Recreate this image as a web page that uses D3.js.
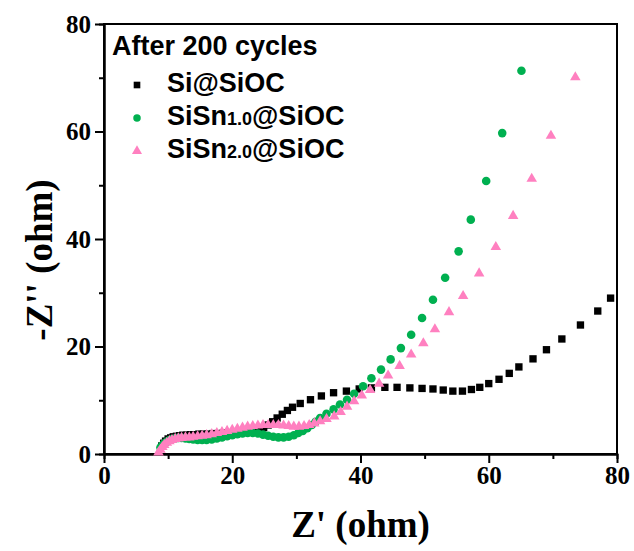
<!DOCTYPE html>
<html>
<head>
<meta charset="utf-8">
<script src="https://cdn.jsdelivr.net/npm/d3@7"></script>
<style>
body { margin: 0; background: #fff; }
svg { display: block; }
.tick text { font-family: "Liberation Serif", "Times New Roman", serif; font-weight: bold; font-size: 25px; fill: #000; }
.axis path, .axis line { stroke: #000; stroke-width: 2; }
.legend text { font-family: "Liberation Sans", Arial, sans-serif; font-weight: bold; font-size: 27px; fill: #000; }
.title { font-family: "Liberation Serif", "Times New Roman", serif; font-weight: bold; font-size: 37px; fill: #000; }
</style>
</head>
<body>
<div id="chart"></div>
<script>
// tick labels
var xTicks = [0, 20, 40, 60, 80];
var yTicks = [0, 20, 40, 60, 80];
var xMinor = [10, 30, 50, 70];
var yMinor = [10, 30, 50, 70];

// Si@SiOC
var siX = [9.0,9.3,9.6,10.0,10.4,10.8,11.3,11.8,12.3,12.9,13.5,14.1,14.8,15.5,16.2,17.0,17.8,18.6,19.4,20.2,21.0,21.8,22.6,23.4,24.2,24.9,25.6,26.3,27.0,27.8,28.6,29.4,30.6,32.2,33.9,35.8,37.8,39.8,41.7,43.8,45.7,47.7,49.6,51.3,52.9,54.4,55.9,57.3,58.6,60.0,61.6,63.2,64.7,66.9,69.0,71.4,74.3,77.0,79.0];
var siY = [1.5,2.0,2.4,2.8,3.0,3.2,3.3,3.4,3.5,3.5,3.6,3.6,3.7,3.7,3.7,3.8,3.8,3.9,3.9,4.0,4.0,4.1,4.2,4.3,4.5,4.9,5.4,6.0,6.7,7.4,8.1,8.7,9.4,10.1,10.8,11.4,11.7,12.1,12.3,12.4,12.4,12.3,12.2,12.1,11.9,11.7,11.7,12.0,12.4,13.1,13.9,15.0,16.2,17.7,19.4,21.4,24.0,26.6,29.0];

// SiSn1.0@SiOC
var sn1X = [8.8,9.1,9.4,9.8,10.2,10.6,11.1,11.6,12.1,12.7,13.3,13.9,14.6,15.3,16.0,16.8,17.6,18.4,19.2,20.0,20.8,21.6,22.4,23.2,24.0,24.8,25.6,26.4,27.2,28.0,28.8,29.6,30.3,31.0,31.7,32.4,33.0,33.7,34.7,35.8,36.8,37.9,39.0,40.4,41.7,43.2,44.7,46.3,47.9,49.6,51.3,53.2,55.3,57.2,59.6,62.1,65.1];
var sn1Y = [1.2,1.6,2.0,2.3,2.6,2.8,2.9,3.0,3.0,2.9,2.8,2.7,2.6,2.6,2.6,2.7,2.9,3.1,3.3,3.5,3.7,3.8,3.9,3.9,3.8,3.6,3.4,3.2,3.1,3.1,3.2,3.5,3.9,4.3,4.8,5.4,6.0,6.7,7.5,8.3,9.2,10.1,11.2,12.6,14.1,15.7,17.6,19.7,22.2,25.3,28.7,32.8,37.7,43.6,50.8,59.7,71.3];

// SiSn2.0@SiOC
var sn2X = [8.5,8.8,9.1,9.4,9.8,10.2,10.6,11.1,11.6,12.1,12.7,13.3,13.9,14.6,15.3,16.0,16.8,17.6,18.4,19.2,20.0,20.8,21.6,22.4,23.2,24.0,24.8,25.6,26.4,27.2,28.0,28.8,29.6,30.4,31.2,32.0,32.8,33.7,34.7,35.9,36.9,37.9,39.0,40.2,41.5,42.9,44.3,46.1,47.9,49.8,51.6,53.8,56.0,58.5,61.1,63.8,66.7,69.7,73.5];
var sn2Y = [0.3,0.8,1.3,1.7,2.1,2.4,2.6,2.8,2.9,3.0,3.1,3.1,3.2,3.3,3.4,3.5,3.7,3.9,4.1,4.3,4.5,4.7,4.9,5.1,5.2,5.3,5.4,5.4,5.4,5.4,5.3,5.2,5.1,5.1,5.2,5.4,5.7,6.1,6.5,7.0,7.8,8.8,9.8,10.9,11.9,13.1,14.6,16.4,18.5,20.6,23.2,26.4,29.4,33.6,38.5,44.3,51.2,59.2,70.1];

var seriesNames = ["Si@SiOC", "SiSn", "SiSn"];
var seriesSubs = ["", "1.0", "2.0"];
var seriesColors = ["#000000", "#00b050", "#ff80c0"];
var legendTitle = "After 200 cycles";

var W = 634, H = 551;
var margin = {top: 24, right: 17, bottom: 97, left: 104};
var graph_w = W - margin.left - margin.right;
var graph_h = H - margin.top - margin.bottom;

var svg = d3.select("#chart").append("svg")
	.attr("width", W)
	.attr("height", H);
var g = svg.append("g")
	.attr("transform", "translate(" + margin.left + "," + margin.top + ")");

var x = d3.scaleLinear().domain([0, 80]).range([0, graph_w]);
var y = d3.scaleLinear().domain([0, 80]).range([graph_h, 0]);

// minor ticks
g.append("g")
	.attr("class", "axis")
	.attr("transform", "translate(0," + graph_h + ")")
	.call(d3.axisBottom(x).tickValues(xMinor).tickSize(5).tickFormat(""));
g.append("g")
	.attr("class", "axis")
	.call(d3.axisLeft(y).tickValues(yMinor).tickSize(5).tickFormat(""));

// major ticks + labels
g.append("g")
	.attr("class", "axis")
	.attr("transform", "translate(0," + graph_h + ")")
	.call(d3.axisBottom(x).tickValues(xTicks).tickSize(9).tickSizeOuter(0).tickPadding(3));
g.append("g")
	.attr("class", "axis")
	.call(d3.axisLeft(y).tickValues(yTicks).tickSize(9).tickSizeOuter(0).tickPadding(4));

// frame
g.append("rect")
	.attr("width", graph_w)
	.attr("height", graph_h)
	.attr("fill", "none")
	.attr("stroke", "#000")
	.attr("stroke-width", 2);

// data
var symbols = [d3.symbolSquare, d3.symbolCircle, d3.symbolTriangle];
var sizes = [54, 58, 48];
var allData = [
	d3.zip(siX, siY),
	d3.zip(sn1X, sn1Y),
	d3.zip(sn2X, sn2Y)
];

allData.forEach(function(data, i) {
	var sym = d3.symbol().type(symbols[i]).size(sizes[i]);
	g.append("g")
		.selectAll("path")
		.data(data)
		.enter().append("path")
		.attr("d", sym)
		.attr("fill", seriesColors[i])
		.attr("transform", function(d) { return "translate(" + x(d[0]) + "," + y(d[1]) + ")"; });
});

// legend
var legend = svg.append("g").attr("class", "legend");
legend.append("text")
	.attr("x", 112)
	.attr("y", 55)
	.text(legendTitle);

seriesNames.forEach(function(name, i) {
	var ly = 92 + i * 33;
	var sym = d3.symbol().type(symbols[i]).size(44);
	legend.append("path")
		.attr("d", sym)
		.attr("fill", seriesColors[i])
		.attr("transform", "translate(137," + (ly - 7) + ")");
	var t = legend.append("text")
		.attr("x", 167)
		.attr("y", ly);
	t.append("tspan").text(name);
	if (seriesSubs[i]) {
		t.append("tspan").style("font-size", "18px").text(seriesSubs[i]);
		t.append("tspan").text("@SiOC");
	}
});

// axis titles
svg.append("text")
	.attr("class", "title")
	.attr("text-anchor", "middle")
	.attr("x", margin.left + graph_w / 2)
	.attr("y", 537)
	.text("Z' (ohm)");

svg.append("text")
	.attr("class", "title")
	.attr("text-anchor", "middle")
	.attr("transform", "translate(52,260) rotate(-90)")
	.text("-Z'' (ohm)");
</script>
</body>
</html>
